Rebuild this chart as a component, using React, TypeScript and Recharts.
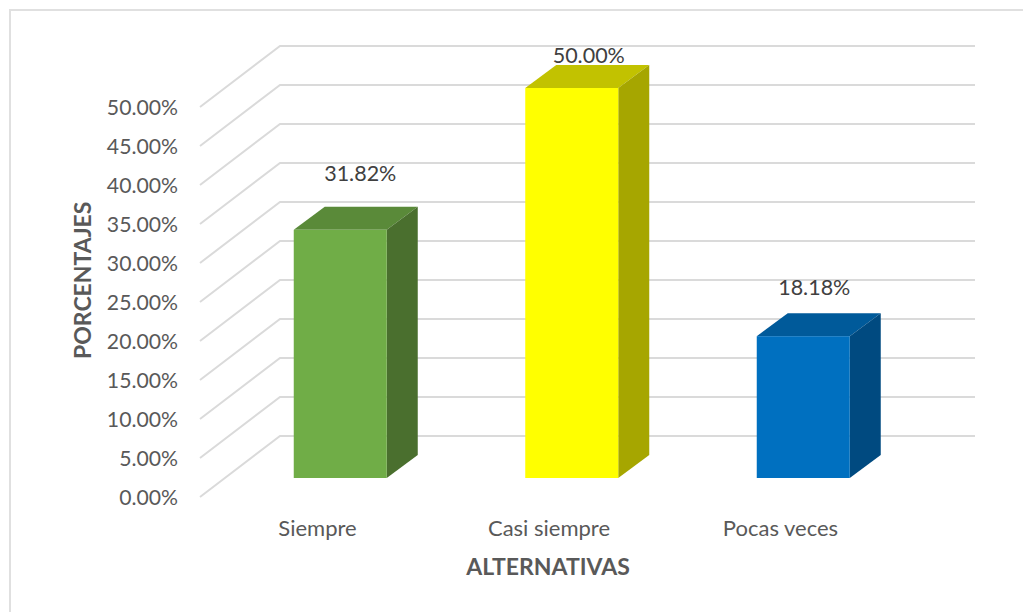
import React from 'react';
import { BarChart, Bar, XAxis, YAxis, CartesianGrid, Cell, LabelList } from 'recharts';

const categories = ['Siempre', 'Casi siempre', 'Pocas veces'];
const percentages = [31.82, 50.0, 18.18];
const yTicks = [0, 5, 10, 15, 20, 25, 30, 35, 40, 45, 50];

const frontColors = ['#70AD47', '#FFFF00', '#0070C0'];
const topColors = ['#5A8A39', '#C2C200', '#005A9A'];
const sideColors = ['#4A6F2E', '#A6A600', '#004A80'];

const data = categories.map((name, i) => ({ name, value: percentages[i] }));

const FONT = 'Lato, sans-serif';
const DEPTH_X = 31;
const DEPTH_Y = 23;
const fmt = (v: any) => `${Number(v).toFixed(2)}%`;

// label nudges from the bar's top centre, excel placed these by hand
const labelNudge = [
  { dx: 20, dy: -56 },
  { dx: 17, dy: -33 },
  { dx: 11, dy: -49 },
];

function Box3D(props: any) {
  const { x, y, width, height, index } = props;
  const r = x + width;
  const b = y + height;
  return (
    <g>
      <polygon points={`${x},${y} ${r},${y} ${r + DEPTH_X},${y - DEPTH_Y} ${x + DEPTH_X},${y - DEPTH_Y}`} fill={topColors[index]} />
      <polygon points={`${r},${y} ${r + DEPTH_X},${y - DEPTH_Y} ${r + DEPTH_X},${b - DEPTH_Y} ${r},${b}`} fill={sideColors[index]} />
      <rect x={x} y={y} width={width} height={height} fill={frontColors[index]} />
    </g>
  );
}

// wall + side wall, one elbow line per gridline
function GridLine(props: any) {
  const { x1, x2, y1 } = props;
  return (
    <polyline
      key={`g-${y1}`}
      points={`${x1 - 24.75},${y1 + 19} ${x1 + 55.25},${y1 - 42} ${x2 + 55.75},${y1 - 42}`}
      fill="none"
      stroke="#DADADA"
      strokeWidth={2}
    />
  );
}

function YTick(props: any) {
  const { y, payload } = props;
  return (
    <text x={178} y={y + 20} dy="0.35em" textAnchor="end" fill="#595959" fontSize={21.2} fontFamily={FONT}>
      {fmt(payload.value)}
    </text>
  );
}

function XTick(props: any) {
  const { x, y, payload } = props;
  return (
    <text x={x - 23} y={y} dy="0.35em" textAnchor="middle" fill="#595959" fontSize={22} fontFamily={FONT}>
      {payload.value}
    </text>
  );
}

function BarLabel(props: any) {
  const { x, y, width, value, index } = props;
  const n = labelNudge[index];
  return (
    <text x={x + width / 2 + n.dx} y={y + n.dy} dy="0.35em" textAnchor="middle" fill="#404040" fontSize={21.5} fontFamily={FONT}>
      {fmt(value)}
    </text>
  );
}

export default function App() {
  return (
    <div style={{ position: 'absolute', left: 0, top: 0, width: 1023, height: 612, background: '#fff', overflow: 'hidden' }}>
      <div style={{ position: 'absolute', left: 9, top: 9, width: 1030, height: 640, borderTop: '2px solid #E0E0E0', borderLeft: '2px solid #E0E0E0' }} />
      <div style={{ position: 'absolute', left: 0, top: 0 }}>
        <BarChart
          width={1023}
          height={612}
          data={data}
          margin={{ top: 88, right: 103.75, bottom: 84, left: 60 }}
        >
          <CartesianGrid vertical={false} horizontal={GridLine as any} />
          <XAxis
            dataKey="name"
            height={50}
            axisLine={false}
            tickLine={false}
            tick={XTick as any}
            tickMargin={44}
            interval={0}
            label={{ value: 'ALTERNATIVAS', position: 'insideBottom', dx: -24, dy: 52, fill: '#595959', fontSize: 23, fontWeight: 700, fontFamily: FONT }}
          />
          <YAxis
            width={164.75}
            domain={[0, 50]}
            ticks={yTicks}
            axisLine={false}
            tickLine={false}
            tick={YTick as any}
            label={{ value: 'PORCENTAJES', angle: -90, position: 'insideLeft', dx: 18, dy: 76, fill: '#595959', fontSize: 23, fontWeight: 700, fontFamily: FONT }}
          />
          <Bar dataKey="value" barSize={93} shape={Box3D as any} isAnimationActive={false}>
            {data.map((d, i) => (
              <Cell key={d.name} fill={frontColors[i]} />
            ))}
            <LabelList dataKey="value" content={BarLabel as any} />
          </Bar>
        </BarChart>
      </div>
    </div>
  );
}
